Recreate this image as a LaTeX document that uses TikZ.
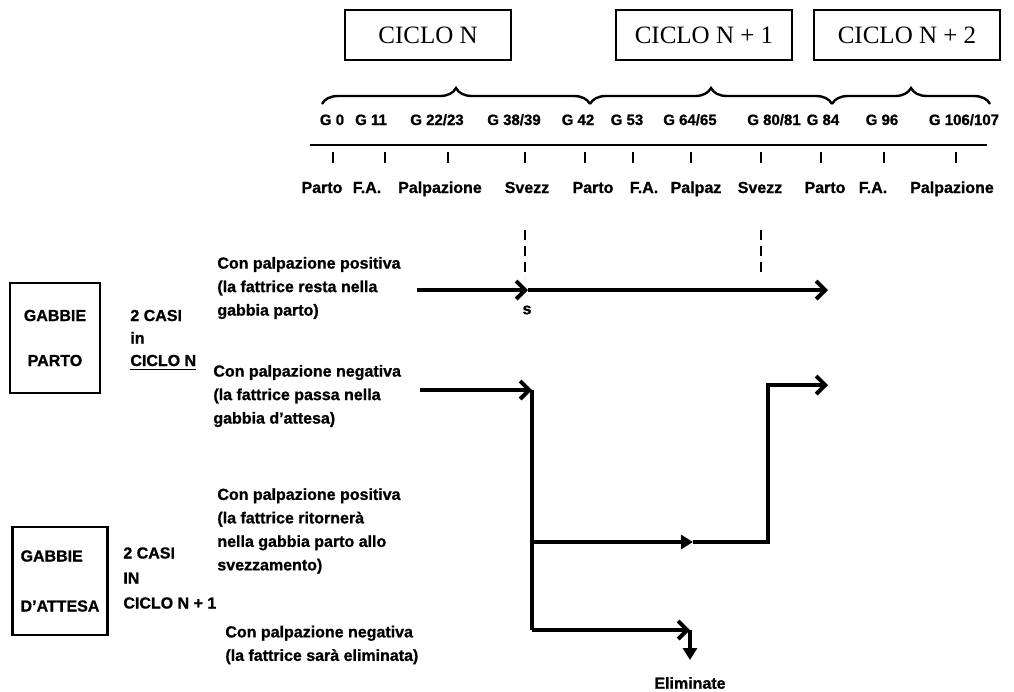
\documentclass[tikz,border=0pt]{standalone}
\usepackage{fontspec}
\setmainfont{Liberation Sans}[BoldFeatures={FakeBold=1}]
\newfontfamily\ciclofont{Liberation Serif}
\usetikzlibrary{arrows.meta,decorations.pathreplacing}

\begin{document}
\begin{tikzpicture}[
    x=0.5pt, y=-0.5pt,
    every node/.style={
      inner sep=0pt, font=\bfseries\fontsize{8}{11.75}\selectfont
    },
    ciclo/.style={
      draw, line width=1.1pt, minimum height=25pt,
      font=\ciclofont\fontsize{12.5}{14}\selectfont
    },
    gabbia/.style={
      draw, line width=1.3pt, align=center,
      minimum width=45pt, minimum height=55pt
    },
    giorno/.style={anchor=base, font=\bfseries\fontsize{7.5}{8}\selectfont},
    fase/.style={anchor=base},
    testo/.style={anchor=west, align=left},
    graffa/.style={
      decorate, decoration={brace, amplitude=8pt}, line width=1.2pt
    },
    tacca/.style={line width=1pt},
    guida/.style={line width=1pt, dash pattern=on 5pt off 3pt},
    flusso/.style={
      line width=2pt, -{Straight Barb[length=4.5pt, width=9pt]}
    },
    pieno/.style={
      line width=2pt, -{Triangle[length=6pt, width=7pt]}
    }
  ]
  \useasboundingbox (0,0) rectangle (1014,692);

  % cicli
  \node[ciclo, minimum width=83pt] (cicloN) at (428,35) {CICLO N};
  \node[ciclo, minimum width=88pt] (cicloN1) at (704,35) {CICLO N + 1};
  \node[ciclo, minimum width=93pt] (cicloN2) at (907,35) {CICLO N + 2};

  \draw[graffa] (322,104) -- (590,104);
  \draw[graffa] (590,104) -- (832,104);
  \draw[graffa] (832,104) -- (990,104);

  % giorni
  \foreach \x/\g [count=\i] in {332/{G 0}, 371/{G 11}, 437/{G 22/23},
      514/{G 38/39}, 578/{G 42}, 627/{G 53}, 690/{G 64/65},
      774/{G 80/81}, 823/{G 84}, 882/{G 96}, 964/{G 106/107}}
    \node[giorno] (g\i) at (\x,125) {\g};

  % asse dei tempi
  \coordinate (t0) at (310,145);
  \coordinate (t1) at (987,145);
  \draw[line width=1.4pt] (t0) -- (t1);
  \foreach \x/\lx/\f [count=\i] in {333/322/Parto, 385/367/F.A.,
      448/440/Palpazione, 525/527/Svezz, 585/593/Parto, 633/644/F.A.,
      691/696/Palpaz, 761/760/Svezz, 821/825/Parto, 884/873/F.A.,
      956/952/Palpazione}
  {
    \draw[tacca] (\x,152) -- (\x,163);
    \node[fase] (f\i) at (\lx,193) {\f};
  }

  % svezzamento
  \draw[guida] (525,230) -- (525,278);
  \draw[guida] (761,230) -- (761,273);

  % gabbie
  \node[gabbia, font=\bfseries\fontsize{8}{22.5}\selectfont]
    (gparto) at (55,338) {GABBIE\\PARTO};
  \node[testo, font=\bfseries\fontsize{8}{11.25}\selectfont]
    (casi1) at (130,340) {2 CASI\\in\\\underline{CICLO N}};
  \node[gabbia, align=left, minimum width=47.5pt, minimum height=54pt,
    font=\bfseries\fontsize{8}{25}\selectfont]
    (gattesa) at (60,581) {GABBIE\\D'ATTESA};
  \node[testo, font=\bfseries\fontsize{8}{12.5}\selectfont]
    (casi2) at (123,578) {2 CASI\\IN\\CICLO N + 1};

  \node[testo] (pos1) at (217,288)
    {Con palpazione positiva\\(la fattrice resta nella\\gabbia parto)};
  \node[testo] (neg1) at (213,396)
    {Con palpazione negativa\\(la fattrice passa nella\\gabbia d'attesa)};
  \node[testo] (pos2) at (217,531)
    {Con palpazione positiva\\(la fattrice ritornerà\\nella gabbia parto allo\\svezzamento)};
  \node[testo] (neg2) at (225,645)
    {Con palpazione negativa\\(la fattrice sarà eliminata)};

  % flussi
  \coordinate (a0) at (417,290);
  \coordinate (sv) at (528,290);
  \coordinate (a1) at (828,290);
  \draw[flusso] (a0) -- (sv);
  \draw[flusso] (sv) -- (a1);
  \node (esse) at (527,310) {s};

  \coordinate (b0) at (420,390);
  \coordinate (bsplit) at (532,390);
  \coordinate (bmid) at (532,542);
  \coordinate (bbot) at (532,630);
  \coordinate (c0) at (693,542);
  \coordinate (c1) at (768,542);
  \coordinate (c2) at (768,385);
  \coordinate (c3) at (828,385);
  \coordinate (d0) at (690,630);
  \coordinate (d1) at (690,660);

  \draw[flusso] (b0) -- (bsplit);
  \draw[line width=2pt] (bsplit) -- (bbot);
  \draw[pieno] (bmid) -- (c0);
  \draw[flusso] (c0) -- (c1) -- (c2) -- (c3);
  \draw[flusso] (bbot) -- (d0);
  \draw[pieno] (d0) -- (d1);
  \node (elim) at (690,683) {Eliminate};
\end{tikzpicture}
\end{document}
